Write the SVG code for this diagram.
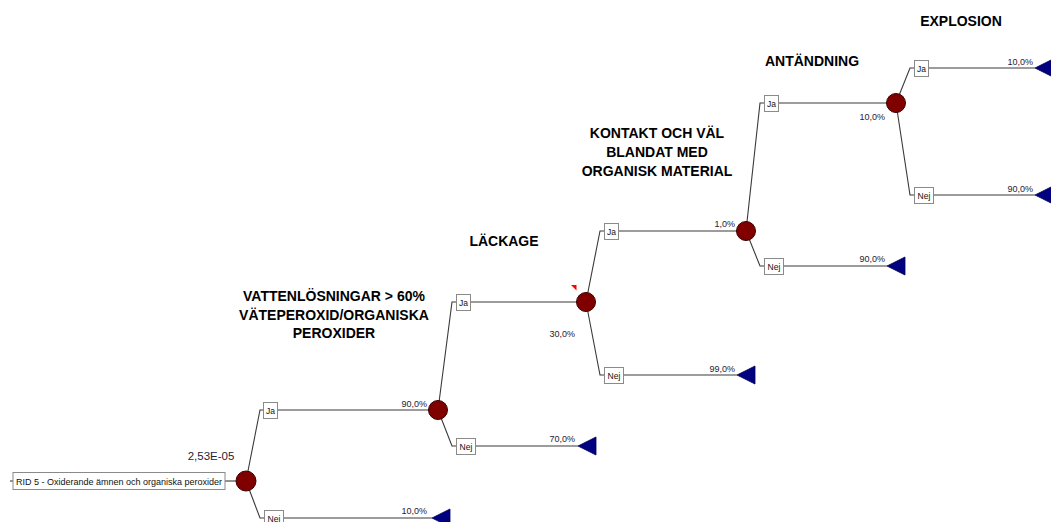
<svg xmlns="http://www.w3.org/2000/svg" width="1051" height="522" viewBox="0 0 1051 522">
  <style>
    .wire { fill: none; stroke: #3a3a3a; stroke-width: 1.1; }
    .chance { fill: #800000; stroke: #3a0000; stroke-width: 1; }
    .end { fill: #000080; stroke: #000050; stroke-width: 0.8; }
    .tag { fill: #ffffff; stroke: #8a8a8a; stroke-width: 1; }
    .tagtxt { font-family: "Liberation Sans", Arial, sans-serif; font-size: 8.5px; fill: #111; text-anchor: middle; }
    .prob { font-family: "Liberation Sans", Arial, sans-serif; font-size: 9px; fill: #1e2233; text-anchor: end; }
    .head { font-family: "Liberation Sans", Arial, sans-serif; font-size: 14px; font-weight: bold; fill: #000; text-anchor: middle; }
  </style>
  <rect width="1051" height="522" fill="#ffffff"/>

  <!-- connectors -->
  <g id="connectors">
    <path class="wire" d="M10,481 H13"/>
    <path class="wire" d="M225,481 H236"/>
    <!-- root chance -->
    <path class="wire" d="M246,481 L260,410 H263"/>
    <path class="wire" d="M278,410 H438"/>
    <path class="wire" d="M246,481 L260,518 H264"/>
    <path class="wire" d="M283,518 H432"/>
    <!-- läckage -->
    <path class="wire" d="M438,410 L452,302 H456"/>
    <path class="wire" d="M470,302 H586"/>
    <path class="wire" d="M438,410 L452,446 H456"/>
    <path class="wire" d="M476,446 H578"/>
    <!-- kontakt -->
    <path class="wire" d="M586,302 L600,231 H604"/>
    <path class="wire" d="M618,231 H746"/>
    <path class="wire" d="M586,302 L600,375 H604"/>
    <path class="wire" d="M624,375 H737"/>
    <!-- antändning -->
    <path class="wire" d="M746,231 L760,103 H764"/>
    <path class="wire" d="M778,103 H896"/>
    <path class="wire" d="M746,231 L760,266 H764"/>
    <path class="wire" d="M784,266 H887"/>
    <!-- explosion -->
    <path class="wire" d="M896,103 L910,68 H914"/>
    <path class="wire" d="M928,68 H1035"/>
    <path class="wire" d="M896,103 L910,195 H914"/>
    <path class="wire" d="M934,195 H1035"/>
  </g>

  <!-- column headings -->
  <g id="headings">
    <text class="head" x="334" y="301">VATTENLÖSNINGAR &gt; 60%</text>
    <text class="head" x="334" y="320">VÄTEPEROXID/ORGANISKA</text>
    <text class="head" x="334" y="338">PEROXIDER</text>
    <text class="head" x="504" y="246">LÄCKAGE</text>
    <text class="head" x="657" y="138">KONTAKT OCH VÄL</text>
    <text class="head" x="657" y="157">BLANDAT MED</text>
    <text class="head" x="657" y="176">ORGANISK MATERIAL</text>
    <text class="head" x="812" y="66">ANTÄNDNING</text>
    <text class="head" x="961" y="26">EXPLOSION</text>
  </g>

  <!-- root event -->
  <g id="root">
    <rect class="tag" x="13" y="472.5" width="212" height="17"/>
    <text x="119" y="484.5" font-family="'Liberation Sans', Arial, sans-serif" font-size="9px" fill="#111" text-anchor="middle">RID 5 - Oxiderande ämnen och organiska peroxider</text>
  </g>

  <g id="node-rid">
    <circle class="chance" cx="246" cy="481" r="10"/>
    <text x="211" y="460" font-family="'Liberation Sans', Arial, sans-serif" font-size="11.5px" fill="#1e2233" text-anchor="middle">2,53E-05</text>
  </g>

  <g id="branch-vatten-ja">
    <rect class="tag" x="263.5" y="402.5" width="14" height="16"/>
    <text class="tagtxt" x="270.5" y="413.5">Ja</text>
    <text class="prob" x="427" y="407">90,0%</text>
  </g>
  <g id="branch-vatten-nej">
    <rect class="tag" x="264.5" y="510.5" width="19" height="16"/>
    <text class="tagtxt" x="274" y="521.5">Nej</text>
    <text class="prob" x="427" y="514">10,0%</text>
    <polygon class="end" points="432,518 450,509 450,527"/>
  </g>

  <g id="node-lackage">
    <circle class="chance" cx="438" cy="410" r="9.5"/>
  </g>
  <g id="branch-lackage-ja">
    <rect class="tag" x="456.5" y="294.5" width="14" height="16"/>
    <text class="tagtxt" x="463.5" y="305.5">Ja</text>
  </g>
  <g id="branch-lackage-nej">
    <rect class="tag" x="456.5" y="438.5" width="19" height="16"/>
    <text class="tagtxt" x="466" y="449.5">Nej</text>
    <text class="prob" x="575" y="442">70,0%</text>
    <polygon class="end" points="578,446 596,437 596,455"/>
  </g>

  <g id="node-kontakt">
    <circle class="chance" cx="586" cy="302" r="9.5"/>
    <polygon points="571,285 576.5,285 576.5,290.5" fill="#ff0000"/>
    <text class="prob" x="575" y="337">30,0%</text>
  </g>
  <g id="branch-kontakt-ja">
    <rect class="tag" x="604.5" y="223.5" width="14" height="16"/>
    <text class="tagtxt" x="611.5" y="234.5">Ja</text>
    <text class="prob" x="735" y="227">1,0%</text>
  </g>
  <g id="branch-kontakt-nej">
    <rect class="tag" x="604.5" y="367.5" width="19" height="16"/>
    <text class="tagtxt" x="614" y="378.5">Nej</text>
    <text class="prob" x="735" y="372">99,0%</text>
    <polygon class="end" points="737,375 755,366 755,384"/>
  </g>

  <g id="node-antandning">
    <circle class="chance" cx="746" cy="231" r="9.5"/>
  </g>
  <g id="branch-antandning-ja">
    <rect class="tag" x="764.5" y="95.5" width="14" height="16"/>
    <text class="tagtxt" x="771.5" y="106.5">Ja</text>
  </g>
  <g id="branch-antandning-nej">
    <rect class="tag" x="764.5" y="258.5" width="19" height="16"/>
    <text class="tagtxt" x="774" y="269.5">Nej</text>
    <text class="prob" x="885" y="262">90,0%</text>
    <polygon class="end" points="887,266 905,257 905,275"/>
  </g>

  <g id="node-explosion">
    <circle class="chance" cx="896" cy="103" r="9.5"/>
    <text class="prob" x="885" y="120">10,0%</text>
  </g>
  <g id="branch-explosion-ja">
    <rect class="tag" x="914.5" y="60.5" width="14" height="16"/>
    <text class="tagtxt" x="921.5" y="71.5">Ja</text>
    <text class="prob" x="1033" y="65">10,0%</text>
    <polygon class="end" points="1035,68 1053,59 1053,77"/>
  </g>
  <g id="branch-explosion-nej">
    <rect class="tag" x="914.5" y="187.5" width="19" height="16"/>
    <text class="tagtxt" x="924" y="198.5">Nej</text>
    <text class="prob" x="1033" y="192">90,0%</text>
    <polygon class="end" points="1035,195 1053,186 1053,204"/>
  </g>
</svg>
